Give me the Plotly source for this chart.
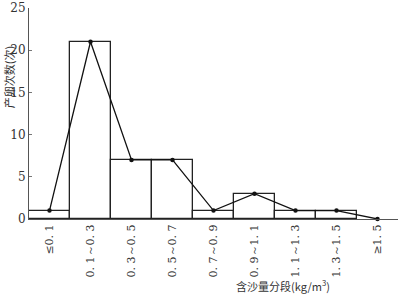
import plotly.graph_objects as go

categories = ["≤0. 1", "0. 1～0. 3", "0. 3～0. 5", "0. 5～0. 7", "0. 7～0. 9",
              "0. 9～1. 1", "1. 1～1. 3", "1. 3～1. 5", "≥1. 5"]
bar_values = [1, 21, 7, 7, 1, 3, 1, 1]
line_values = [1, 21, 7, 7, 1, 3, 1, 1, 0]
y_ticks = [0, 5, 10, 15, 20, 25]

SERIF = "DejaVu Serif, serif"

fig = go.Figure()
fig.add_trace(go.Bar(
    x=categories[:len(bar_values)], y=bar_values, width=1,
    marker=dict(color="white", line=dict(color="#222222", width=1.3)),
    showlegend=False,
))
fig.add_trace(go.Scatter(
    x=categories, y=line_values, mode="lines+markers",
    line=dict(color="#111111", width=1.3),
    marker=dict(color="#111111", size=4.5),
    showlegend=False, cliponaxis=False,
))

fig.update_layout(
    width=399, height=296,
    margin=dict(l=29, r=1, t=5, b=77),
    paper_bgcolor="white", plot_bgcolor="white",
    bargap=0,
    xaxis=dict(
        type="category", categoryorder="array", categoryarray=categories,
        range=[-0.5, 8.5],
        showline=True, linecolor="#555555", linewidth=1,
        ticks="", tickangle=-90,
        tickfont=dict(family=SERIF, size=11, color="#333333"),
        showgrid=False, zeroline=False,
    ),
    yaxis=dict(
        range=[0, 25], tickvals=y_ticks,
        showline=True, linecolor="#555555", linewidth=1,
        ticks="inside", ticklen=3, tickcolor="#777777",
        ticklabeloverflow="allow",
        tickfont=dict(family=SERIF, size=12, color="#333333"),
        showgrid=False, zeroline=False,
    ),
    annotations=[
        dict(text="产卵次数(次)", textangle=-90, xref="paper", yref="paper",
             x=-0.055, y=0.67, xanchor="center", yanchor="middle", showarrow=False,
             font=dict(family="Noto Sans CJK SC", size=11, color="#333333")),
        dict(text="含沙量分段(kg/m<sup>3</sup>)", xref="paper", yref="paper",
             x=0.688, y=-0.315, xanchor="center", yanchor="middle", showarrow=False,
             font=dict(family="Noto Sans CJK SC", size=11, color="#333333")),
    ],
)

fig.write_html("out.html")
